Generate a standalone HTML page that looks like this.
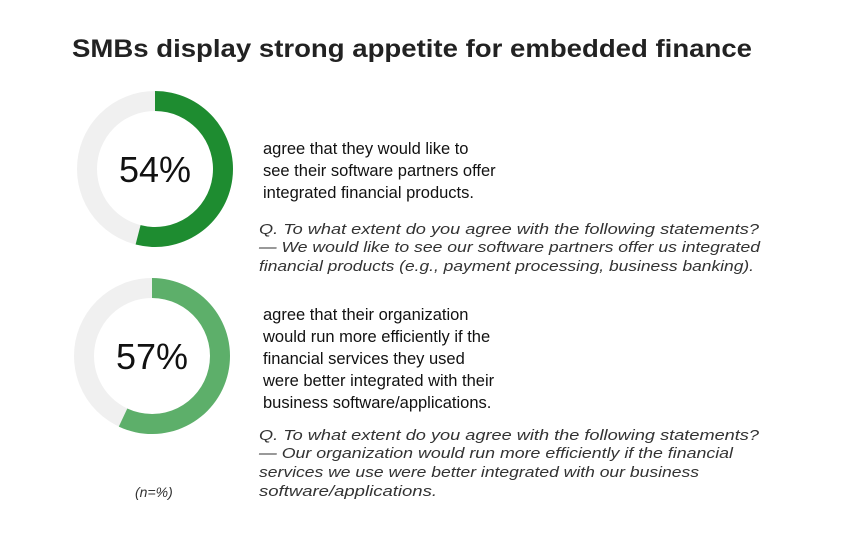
<!DOCTYPE html>
<html><head><meta charset="utf-8"><style>
html,body{margin:0;padding:0;background:#fff;width:850px;height:537px;overflow:hidden}
svg text{font-family:"Liberation Sans",Arial,sans-serif}
</style></head><body>
<svg width="850" height="537" viewBox="0 0 850 537">
<text x="72" y="57" font-size="25" font-weight="bold" fill="#222" textLength="680" lengthAdjust="spacingAndGlyphs">SMBs display strong appetite for embedded finance</text>
<g id="donuts"></g>
<g font-size="16.5" fill="#111">
<text x="263" y="154">agree that they would like to</text>
<text x="263" y="176">see their software partners offer</text>
<text x="263" y="198">integrated financial products.</text>
</g>
<g font-size="15" font-style="italic" fill="#333">
<text x="259" y="234" textLength="500" lengthAdjust="spacingAndGlyphs">Q. To what extent do you agree with the following statements?</text>
<text x="259" y="252" textLength="501" lengthAdjust="spacingAndGlyphs">— We would like to see our software partners offer us integrated</text>
<text x="259" y="271" textLength="495" lengthAdjust="spacingAndGlyphs">financial products (e.g., payment processing, business banking).</text>
</g>
<g font-size="16.5" fill="#111">
<text x="263" y="320">agree that their organization</text>
<text x="263" y="342">would run more efficiently if the</text>
<text x="263" y="364">financial services they used</text>
<text x="263" y="386">were better integrated with their</text>
<text x="263" y="408">business software/applications.</text>
</g>
<g font-size="15" font-style="italic" fill="#333">
<text x="259" y="440" textLength="500" lengthAdjust="spacingAndGlyphs">Q. To what extent do you agree with the following statements?</text>
<text x="259" y="458" textLength="474" lengthAdjust="spacingAndGlyphs">— Our organization would run more efficiently if the financial</text>
<text x="259" y="477" textLength="440" lengthAdjust="spacingAndGlyphs">services we use were better integrated with our business</text>
<text x="259" y="496" textLength="178" lengthAdjust="spacingAndGlyphs">software/applications.</text>
</g>
<text x="135" y="497" font-size="14" font-style="italic" fill="#333">(n=%)</text>
</svg>
<script>
const labels = ["54%", "57%"];
const values = [54, 57];
const colors = ["#1e8c30", "#5daf6a"];
const centers = [[155,169],[152,356]];
const R = 78, W = 20;
const g = document.getElementById('donuts');
const NS = 'http://www.w3.org/2000/svg';
function arcPath(cx, cy, r0, r1, frac) {
  const a = frac * 2 * Math.PI;
  const large = frac > 0.5 ? 1 : 0;
  const x1 = cx + r1 * Math.sin(a), y1 = cy - r1 * Math.cos(a);
  const x0 = cx + r0 * Math.sin(a), y0 = cy - r0 * Math.cos(a);
  return `M${cx},${cy - r1} A${r1},${r1} 0 ${large} 1 ${x1},${y1} L${x0},${y0} A${r0},${r0} 0 ${large} 0 ${cx},${cy - r0} Z`;
}
values.forEach((v, i) => {
  const [cx, cy] = centers[i];
  const bg = document.createElementNS(NS, 'circle');
  bg.setAttribute('cx', cx); bg.setAttribute('cy', cy); bg.setAttribute('r', R - W / 2);
  bg.setAttribute('fill', 'none'); bg.setAttribute('stroke', '#f0f0f0'); bg.setAttribute('stroke-width', W);
  
  
  g.appendChild(bg);
  const p = document.createElementNS(NS, 'path');
  p.setAttribute('d', arcPath(cx, cy, R - W, R, v / 100));
  p.setAttribute('fill', colors[i]);
  
  
  g.appendChild(p);
  const t = document.createElementNS(NS, 'text');
  t.setAttribute('x', cx); t.setAttribute('y', cy + 13);
  t.setAttribute('text-anchor', 'middle'); t.setAttribute('font-size', '36'); t.setAttribute('fill', '#111');
  t.textContent = labels[i];
  
  
  g.appendChild(t);
});
</script>
</body></html>
